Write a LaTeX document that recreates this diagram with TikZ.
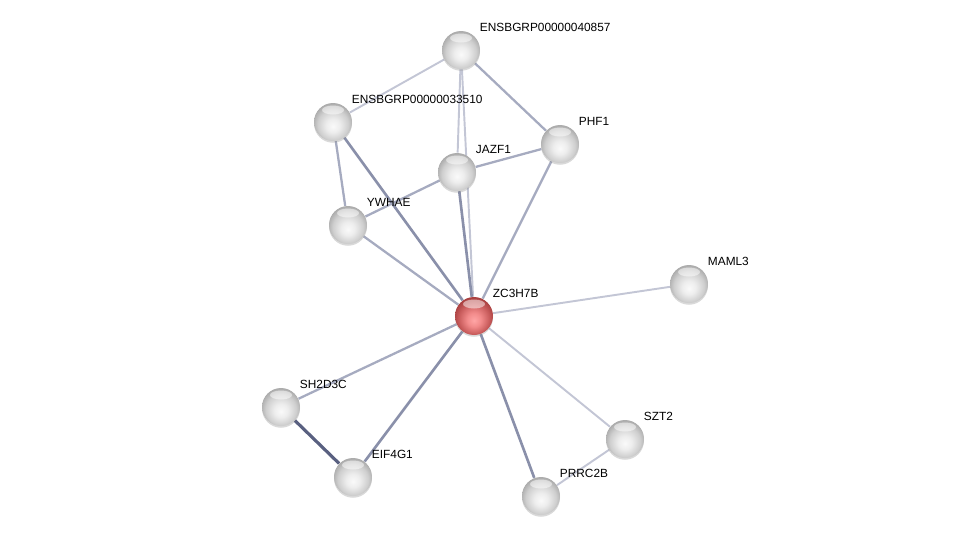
\documentclass[tikz,border=0pt]{standalone}
\usepackage{fontspec}
\setsansfont{Liberation Sans}
\usetikzlibrary{backgrounds,shadows}

\definecolor{lnkpale}{HTML}{C3C6D5}
\definecolor{lnkmid}{HTML}{A6ABC0}
\definecolor{lnkdeep}{HTML}{8A90AA}
\definecolor{lnkdark}{HTML}{596080}

\pgfdeclareradialshading{greyball}{\pgfpoint{0bp}{-6bp}}{%
  color(0bp)=(gray!4); color(9bp)=(gray!14); color(20bp)=(gray!38);
  color(27bp)=(gray!65); color(50bp)=(gray!65)}
\pgfdeclareradialshading{redball}{\pgfpoint{0bp}{-6bp}}{%
  color(0bp)=(red!35!white); color(9bp)=(red!45!white!90!gray); color(20bp)=(red!50!gray!85);
  color(27bp)=(red!55!black!75); color(50bp)=(red!55!black!75)}

\begin{document}
\begin{tikzpicture}[
  x=0.02cm, y=-0.02cm,
  prot/.style={circle, minimum size=0.76cm, inner sep=0pt, shading=greyball,
    drop shadow={shadow xshift=0pt, shadow yshift=-1pt, opacity=0.3},
    path picture={\fill[white, opacity=0.5] ([yshift=-0.14cm]path picture bounding box.north) ellipse (0.22cm and 0.09cm);},
    label distance=3.7pt},
  query/.style={prot, shading=redball},
  lbl/.style={inner sep=0pt, xshift=2.8pt, yshift=2.6pt, font=\sffamily\fontsize{6.75}{7}\selectfont},
  lnk/.style={draw=lnkpale, line width=1.1pt},
  lnkm/.style={draw=lnkmid, line width=1.3pt},
  lnkd/.style={draw=lnkdeep, line width=1.5pt},
  lnkx/.style={draw=lnkdark, line width=1.8pt},
]
\useasboundingbox (0,0) rectangle (976,541);

\node[prot, label={[lbl]45:ENSBGRP00000040857}] (e40857) at (461,50) {};
\node[prot, label={[lbl]45:ENSBGRP00000033510}] (e33510) at (333,122) {};
\node[prot, label={[lbl]45:PHF1}]   (phf1)   at (560,144) {};
\node[prot, label={[lbl]45:JAZF1}]  (jazf1)  at (457,172) {};
\node[prot, label={[lbl]45:YWHAE}]  (ywhae)  at (348,225) {};
\node[prot, label={[lbl]45:MAML3}]  (maml3)  at (689,284) {};
\node[query, label={[lbl]45:ZC3H7B}] (zc3h7b) at (474,316) {};
\node[prot, label={[lbl]45:SH2D3C}] (sh2d3c) at (281,407) {};
\node[prot, label={[lbl]45:SZT2}]   (szt2)   at (625,439) {};
\node[prot, label={[lbl]45:EIF4G1}] (eif4g1) at (353,477) {};
\node[prot, label={[lbl]45:PRRC2B}] (prrc2b) at (541,496) {};

\begin{scope}[on background layer]
\draw[lnk]  (e40857) -- (e33510);
\draw[lnk]  (e40857) -- (jazf1);
\draw[lnk]  (e40857) -- (zc3h7b);
\draw[lnkm] (e40857) -- (phf1);
\draw[lnkm] (e33510) -- (ywhae);
\draw[lnkd] (e33510) -- (zc3h7b);
\draw[lnkm] (phf1) -- (jazf1);
\draw[lnkm] (phf1) -- (zc3h7b);
\draw[lnkm] (jazf1) -- (ywhae);
\draw[lnkd] (jazf1) -- (zc3h7b);
\draw[lnkm] (ywhae) -- (zc3h7b);
\draw[lnk]  (maml3) -- (zc3h7b);
\draw[lnkm] (sh2d3c) -- (zc3h7b);
\draw[lnkx] (sh2d3c) -- (eif4g1);
\draw[lnkd] (eif4g1) -- (zc3h7b);
\draw[lnk]  (szt2) -- (zc3h7b);
\draw[lnk]  (szt2) -- (prrc2b);
\draw[lnkd] (prrc2b) -- (zc3h7b);
\end{scope}
\end{tikzpicture}
\end{document}
